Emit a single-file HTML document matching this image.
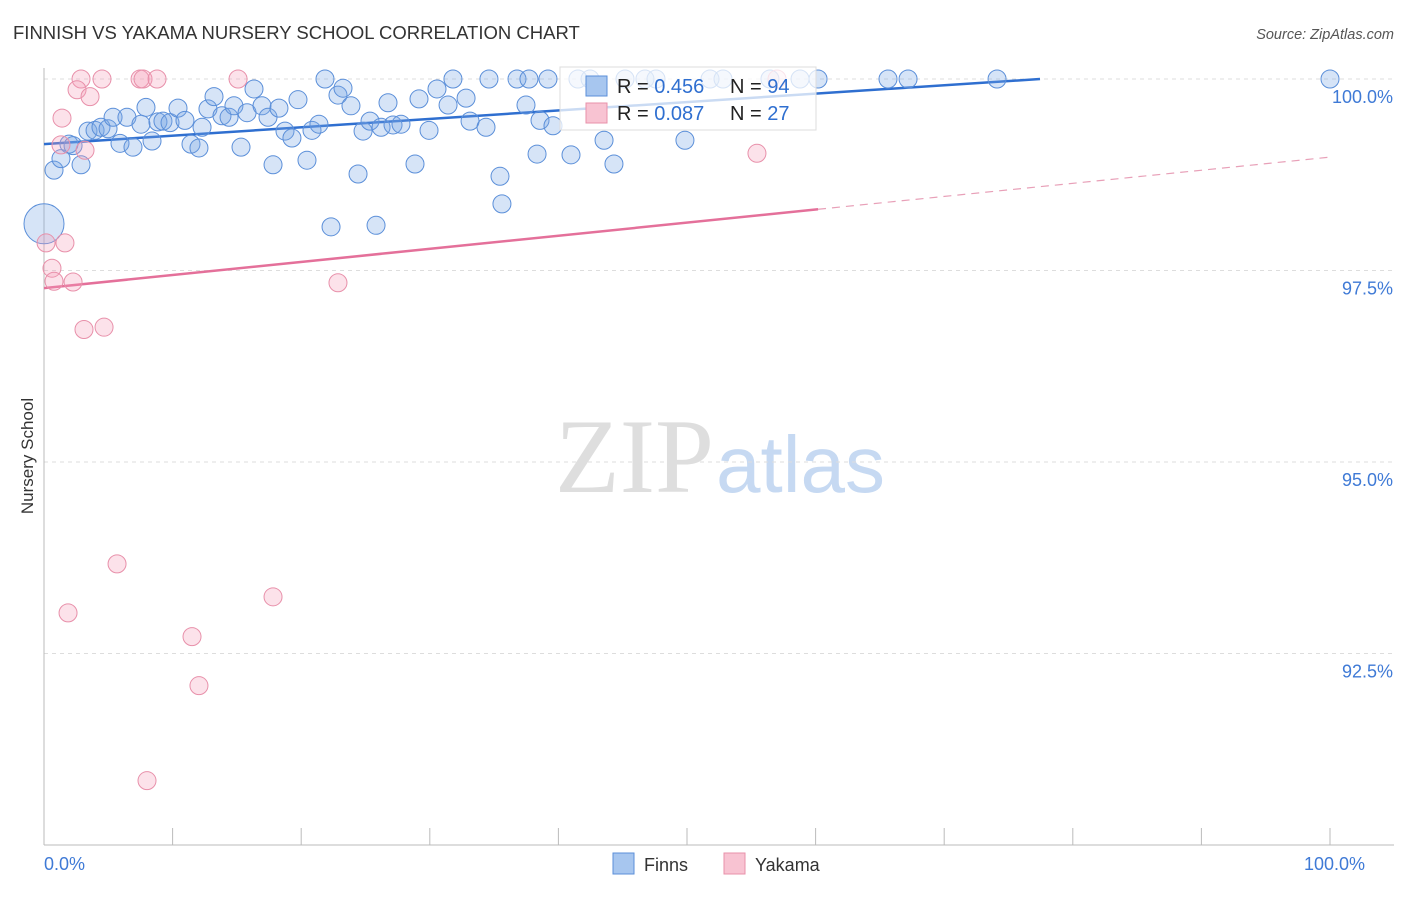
<!DOCTYPE html>
<html><head><meta charset="utf-8"><style>
body{margin:0;background:#fff;font-family:"Liberation Sans",sans-serif}
</style></head><body>
<svg id="chart" width="1406" height="892" xmlns="http://www.w3.org/2000/svg">
<text x="13" y="39" font-size="18.5" fill="#333">FINNISH VS YAKAMA NURSERY SCHOOL CORRELATION CHART</text>
<text x="1394" y="39" font-size="14.5" fill="#555" font-style="italic" text-anchor="end">Source: ZipAtlas.com</text>
<text x="714" y="492" font-size="106" font-family="Liberation Serif,serif" fill="#dedede" text-anchor="end">ZIP</text>
<text x="716" y="492" font-size="80" fill="#c6d9f2">atlas</text>
<g id="grid"></g><g id="axes"></g><g id="lines"></g><g id="pts"></g>
<text transform="translate(33,456) rotate(-90)" font-size="17" fill="#333" text-anchor="middle">Nursery School</text>
<g>
<rect x="560" y="67" width="256" height="63" fill="#fff" fill-opacity="0.75" stroke="#ddd"/>
<rect x="586" y="76" width="21" height="20" fill="#a7c6ef" stroke="#5b8fd9"/>
<rect x="586" y="103" width="21" height="20" fill="#f8c3d2" stroke="#e890aa"/>
<text x="617" y="93" font-size="20" fill="#222">R = <tspan fill="#2f6fd0">0.456</tspan></text>
<text x="730" y="93" font-size="20" fill="#222">N = <tspan fill="#2f6fd0">94</tspan></text>
<text x="617" y="120" font-size="20" fill="#222">R = <tspan fill="#2f6fd0">0.087</tspan></text>
<text x="730" y="120" font-size="20" fill="#222">N = <tspan fill="#2f6fd0">27</tspan></text>
</g>
<g>
<rect x="613" y="853" width="21" height="21" fill="#a7c6ef" stroke="#5b8fd9"/>
<text x="644" y="871" font-size="18" fill="#333">Finns</text>
<rect x="724" y="853" width="21" height="21" fill="#f8c3d2" stroke="#e890aa"/>
<text x="755" y="871" font-size="18" fill="#333">Yakama</text>
</g>
</svg>
<script>
const finnsX=[0.78,1.32,1.94,2.26,2.88,3.42,3.97,4.43,4.98,5.37,5.91,6.45,6.92,7.54,7.93,8.40,8.86,9.25,9.80,10.42,10.96,11.43,12.05,12.29,12.75,13.22,13.84,14.39,14.77,15.32,15.79,16.33,16.95,17.42,17.81,18.27,18.74,19.28,19.75,20.45,20.84,21.38,21.85,22.32,22.86,23.25,23.87,24.42,24.81,25.35,25.82,26.21,26.75,27.14,27.76,28.85,29.16,29.94,30.56,31.42,31.80,32.82,33.13,34.37,34.60,35.46,35.61,36.78,37.48,37.71,38.34,38.57,39.19,39.58,40.98,41.52,42.46,43.55,44.32,45.18,46.73,47.59,49.84,51.79,52.80,56.45,58.79,60.19,65.63,67.19,74.11,100,0];
const finnsY=[98.81,98.96,99.15,99.13,98.88,99.32,99.33,99.37,99.35,99.50,99.16,99.50,99.11,99.41,99.63,99.19,99.44,99.45,99.43,99.62,99.46,99.15,99.10,99.37,99.61,99.77,99.52,99.50,99.65,99.11,99.56,99.87,99.65,99.50,98.88,99.62,99.32,99.23,99.73,98.94,99.33,99.41,100,98.07,99.79,99.88,99.65,98.76,99.32,99.45,98.09,99.37,99.69,99.40,99.41,98.89,99.74,99.33,99.87,99.66,100,99.75,99.45,99.37,100,98.73,98.37,100,99.66,100,99.02,99.46,100,99.39,99.01,100,100,99.20,98.89,100,100,100,99.20,100,100,100,100,100,100,100,100,100,98.11];
const finnsSize=[];for(let i=0;i<finnsX.length;i++)finnsSize.push(i===finnsX.length-1?20:9);
const yakX=[2.88,4.51,7.47,7.70,8.79,15.09,57.0,2.57,3.58,1.40,3.19,1.32,0.16,1.63,0.62,0.78,2.26,22.86,3.11,4.67,5.68,1.87,17.81,11.51,12.05,8.01,55.44];
const yakY=[100,100,100,100,100,100,100,99.86,99.77,99.49,99.07,99.14,97.86,97.86,97.53,97.36,97.35,97.34,96.73,96.76,93.67,93.03,93.24,92.72,92.08,90.84,99.03];
const finnsTrend=[99.15,0.011];
const yakTrend=[97.27,0.0171];
const yTicks=[100,97.5,95,92.5];
const yTickLabels=["100.0%","97.5%","95.0%","92.5%"];
const xEndLabels=["0.0%","100.0%"];
const X=v=>44+v*12.86, Y=v=>79+(100-v)*76.6;
const NS="http://www.w3.org/2000/svg";
function mk(p,tag,a){const e=document.createElementNS(NS,tag);for(const k in a)e.setAttribute(k,a[k]);document.getElementById(p).appendChild(e);return e;}
yTicks.forEach((t,i)=>{
 const l=mk('grid','line',{x1:44,x2:1394,y1:Y(t),y2:Y(t),stroke:'#ddd','stroke-dasharray':'4,4'});
 
 
 const tx=mk('grid','text',{x:1393,y:Y(t)+24,'font-size':18,fill:'#3f7ad6','text-anchor':'end'});
 tx.textContent=yTickLabels[i];
 
 
});
mk('axes','line',{x1:44,x2:44,y1:68,y2:845,stroke:'#bbb'});
const xa=mk('axes','line',{x1:44,x2:1394,y1:845,y2:845,stroke:'#bbb'});


for(let i=0;i<=10;i++){const t=mk('axes','line',{x1:X(i*10),x2:X(i*10),y1:828,y2:845,stroke:'#bbb'});
 
 }
[[0,'start'],[100,'end']].forEach((d,i)=>{const t=mk('axes','text',{x:X(d[0])+(i?35:0),y:870,'font-size':18,fill:'#3f7ad6','text-anchor':d[1]});t.textContent=xEndLabels[i];
 
 });
const bl=mk('lines','line',{x1:X(0),y1:Y(finnsTrend[0]),x2:X(77.45),y2:Y(Math.min(100,finnsTrend[0]+finnsTrend[1]*77.45)),stroke:'#2f6fd0','stroke-width':2.5});


const pl=mk('lines','line',{x1:X(0),y1:Y(yakTrend[0]),x2:X(60.19),y2:Y(yakTrend[0]+yakTrend[1]*60.19),stroke:'#e4709a','stroke-width':2.5});


const pd=mk('lines','line',{x1:X(60.19),y1:Y(yakTrend[0]+yakTrend[1]*60.19),x2:X(100),y2:Y(yakTrend[0]+yakTrend[1]*100),stroke:'#e8a0b8','stroke-width':1.2,'stroke-dasharray':'8,6'});


finnsX.forEach((x,i)=>{const c=mk('pts','circle',{cx:X(x),cy:Y(finnsY[i]),r:finnsSize[i],fill:'rgba(120,165,230,0.3)',stroke:'#5b8fd9','stroke-width':1});
 
 });
yakX.forEach((x,i)=>{const c=mk('pts','circle',{cx:X(x),cy:Y(yakY[i]),r:9,fill:'rgba(245,160,185,0.3)',stroke:'#e890aa','stroke-width':1});
 
 });
</script>
</body></html>
